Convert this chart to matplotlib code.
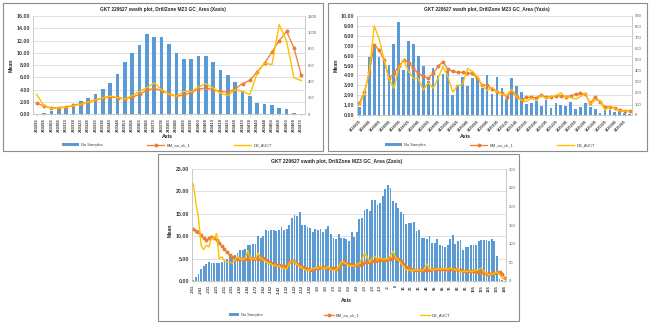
import numpy as np
import matplotlib
matplotlib.use("Agg")
import matplotlib.pyplot as plt
from matplotlib.patches import Rectangle

plt.rcParams['font.family'] = ['Liberation Sans', 'DejaVu Sans']

BLUE = "#5B9BD5"
ORANGE = "#ED7D31"
YELLOW = "#FFC000"
GRID = "#D9D9D9"
SPINE = "#BFBFBF"

# --- X axis swath ---
x_cats = [240293, 240298, 240303, 240308, 240313, 240318, 240323, 240328, 240333, 240338,
          240343, 240348, 240353, 240358, 240363, 240368, 240373, 240378, 240383, 240388,
          240393, 240398, 240403, 240408, 240413, 240418, 240423, 240428, 240433, 240438,
          240443, 240448, 240453, 240458, 240463, 240468, 240473]
x_samples = [2, 15, 34, 60, 90, 128, 158, 195, 248, 308, 383, 495, 638, 743, 848, 975, 945, 945,
             855, 743, 675, 668, 705, 707, 633, 543, 474, 392, 278, 225, 135, 121, 113, 74, 60, 12, 3]
x_bm = [1.80, 1.30, 1.00, 1.05, 1.15, 1.40, 1.70, 1.95, 2.30, 2.60, 2.80, 2.65, 2.45, 2.75, 3.20,
        3.90, 4.20, 3.80, 3.30, 2.95, 3.05, 3.55, 4.05, 4.25, 3.97, 3.70, 3.54, 4.10, 4.96, 5.50,
        6.90, 8.30, 10.10, 12.00, 13.50, 10.80, 6.30]
x_db = [3.20, 1.35, 0.90, 1.00, 1.10, 1.35, 1.60, 1.95, 2.30, 2.65, 2.90, 2.70, 2.45, 3.00, 3.70,
        4.30, 5.10, 3.95, 3.25, 2.90, 3.70, 3.65, 4.40, 4.95, 4.26, 3.40, 3.00, 3.97, 3.70, 3.16,
        6.70, 8.30, 8.07, 14.60, 11.90, 5.90, 5.45]

# --- Y axis swath ---
y_cats = [1424825, 1424835, 1424845, 1424855, 1424865, 1424875, 1424885, 1424895, 1424905, 1424915,
          1424925, 1424935, 1424945, 1424955, 1424965, 1424975, 1424985, 1424995, 1425005, 1425015,
          1425025, 1425035, 1425045, 1425055, 1425065, 1425075, 1425085, 1425095, 1425105, 1425115,
          1425125, 1425135, 1425145, 1425155, 1425165, 1425175, 1425185, 1425195, 1425205, 1425215,
          1425225, 1425235, 1425245, 1425255, 1425265, 1425275, 1425285, 1425295, 1425305, 1425315,
          1425325, 1425335, 1425345, 1425355, 1425365, 1425375]
y_samples = [77, 180, 531, 621, 531, 522, 459, 648, 846, 405, 671, 648, 540, 441, 306, 428, 351, 369,
             401, 180, 270, 342, 261, 338, 329, 248, 365, 189, 342, 243, 144, 333, 261, 212, 99, 108,
             131, 86, 135, 63, 113, 95, 86, 122, 59, 72, 108, 77, 54, 18, 41, 45, 27, 59, 14, 9]
y_bm = [1.25, 2.3, 4.3, 7.05, 6.57, 5.56, 3.7, 4.2, 4.9, 5.56, 5.3, 4.7, 4.2, 3.94, 3.7, 4.2, 4.9,
        5.4, 4.6, 4.4, 4.3, 4.3, 4.25, 4.2, 3.7, 3.0, 3.0, 2.6, 2.35, 2.2, 1.85, 2.35, 1.85, 1.5,
        1.8, 1.8, 1.75, 2.0, 1.8, 1.85, 1.9, 1.95, 1.85, 1.95, 2.1, 2.2, 2.1, 1.2, 1.8, 1.35, 0.8,
        0.85, 0.7, 0.5, 0.4, 0.4]
y_db = [1.0, 2.2, 4.4, 9.0, 7.7, 5.6, 3.7, 2.7, 4.7, 5.6, 4.4, 3.7, 3.7, 2.5, 3.3, 2.7, 3.7, 4.9,
        3.9, 2.3, 3.0, 3.1, 4.7, 4.4, 3.9, 3.0, 2.5, 2.8, 2.35, 2.1, 2.0, 2.6, 1.85, 1.5, 1.35, 1.7,
        1.5, 1.95, 1.7, 1.85, 1.95, 2.25, 1.8, 1.8, 1.6, 1.85, 2.2, 1.1, 1.5, 1.45, 0.5, 0.9, 0.65,
        0.4, 0.4, 0.35]

# --- Z axis swath ---
z_tick_labels = ["-251", "-241", "-231", "-221", "-211", "-201", "-192", "-182", "-172", "-162",
                 "-152", "-142", "-132", "-122", "-112", "-102", "-93", "-83", "-73", "-63",
                 "-53", "-43", "-33", "-23", "-13", "-3", "6", "16", "26", "36",
                 "46", "56", "66", "76", "86", "96", "105", "115", "125", "135", "145"]
z_samples = [4, 12, 19, 32, 40, 46, 50, 48, 49, 48,
             49, 52, 55, 60, 64, 67, 70, 74, 84, 82,
             86, 97, 97, 100, 100, 120, 114, 120, 136, 133,
             137, 137, 134, 136, 144, 136, 138, 150, 168, 178,
             175, 185, 151, 149, 144, 143, 130, 138, 136, 138,
             131, 139, 148, 126, 115, 112, 125, 114, 115, 112,
             108, 130, 119, 132, 167, 169, 190, 193, 188, 218,
             216, 203, 209, 229, 247, 256, 248, 215, 210, 196,
             186, 180, 152, 156, 156, 157, 133, 136, 114, 115,
             112, 120, 103, 103, 112, 96, 94, 90, 96, 112,
             124, 100, 108, 109, 82, 90, 91, 96, 96, 96,
             107, 110, 110, 109, 106, 112, 108, 66, 5, 2, 1]
z_bm = [11.6, 11.2, 10.9, 10.3, 9.5, 9.1, 9.5, 9.8, 9.6, 9.2, 8.5, 7.8, 7.1, 6.4, 5.8, 5.3, 5.0, 4.9,
        4.9, 5.0, 5.0, 5.0, 5.1, 5.0, 5.2, 5.0, 5.0, 5.1, 4.6, 4.2,
        4.0, 3.8, 3.6, 3.5, 3.4, 3.2, 3.5, 4.3, 4.5, 4.3, 3.8, 3.4, 3.1, 2.8, 2.6, 2.5, 2.7, 2.9,
        3.0, 3.1, 3.1, 3.0, 3.0, 2.9, 2.8, 2.7, 3.0, 3.8, 4.2, 4.1,
        3.8, 3.6, 3.5, 3.5, 3.6, 3.9, 4.2, 4.3, 4.3, 4.4, 4.5, 4.6, 4.7, 4.6, 4.7, 4.8, 5.0, 5.3,
        5.2, 4.9, 4.4, 3.8, 3.2, 2.8, 2.6, 2.5, 2.4, 2.4, 2.4, 2.4,
        2.4, 2.5, 2.6, 2.6, 2.6, 2.6, 2.7, 2.7, 2.7, 2.7, 2.7, 2.6, 2.5, 2.4, 2.3, 2.2, 2.2, 2.2,
        2.2, 2.1, 2.1, 2.0, 1.8, 1.6, 1.6, 1.7, 1.8, 1.9, 2.0, 1.6, 0.7]
z_db = [21.7, 17.5, 14.0, 8.0, 7.0, 8.0, 7.6, 9.6, 9.4, 10.6, 5.0, 5.4, 4.4, 4.3, 4.2, 4.0, 4.6, 5.5,
        4.9, 4.8, 5.0, 6.8, 4.9, 5.1, 4.8, 6.3, 5.0, 4.7, 4.3, 4.0,
        3.8, 3.5, 3.4, 3.3, 3.0, 2.8, 2.6, 4.0, 4.4, 4.3, 3.7, 3.2, 2.9, 2.5, 2.4, 2.5, 2.8, 3.0,
        2.8, 3.3, 2.8, 2.9, 3.2, 2.6, 2.3, 2.5, 3.2, 4.3, 4.2, 3.8,
        3.4, 3.5, 3.3, 3.7, 4.0, 5.0, 6.2, 5.4, 4.2, 5.2, 5.5, 4.7, 5.3, 4.8, 5.0, 4.9, 5.6, 6.7,
        5.2, 4.7, 4.0, 3.2, 2.5, 2.4, 2.3, 2.5, 2.5, 2.4, 2.3, 2.7,
        3.8, 2.7, 2.4, 2.6, 2.8, 2.6, 2.7, 2.8, 2.6, 2.9, 2.6, 2.5, 2.7, 2.0, 2.2, 2.1, 2.3, 2.1,
        2.2, 2.4, 2.6, 2.9, 2.2, 1.6, 1.4, 1.5, 1.7, 2.0, 1.5, 0.6, 0.5]

W, H = 649, 323


def fx(x):
    return x / W


def fy(y):
    return 1 - y / H


def swath(fig, frame, plot, title, title_xy, mean_xy, axis_xy, leg_xy, labels, tick_step,
          samples, bm, db, mean_max, mean_step, cnt_max, cnt_step, rot, bar_w,
          title_fs, tick_fs, handlelen, colspace):
    x0, y0, x1, y1 = frame
    fig.add_artist(Rectangle((fx(x0), fy(y1)), (x1 - x0) / W, (y1 - y0) / H,
                             transform=fig.transFigure, fill=False, edgecolor="#8c8c8c", lw=0.8))
    l, t, r, b = plot
    ax = fig.add_axes([fx(l), fy(b), (r - l) / W, (b - t) / H])
    ax2 = ax.twinx()
    ax.set_zorder(ax2.get_zorder() + 1)
    ax.patch.set_visible(False)

    n = len(samples)
    xs = np.arange(n)
    ax.set_xlim(-0.5, n - 0.5)
    ax.set_ylim(0, mean_max)
    ax2.set_ylim(0, cnt_max)

    ticks = np.arange(0, mean_max + mean_step / 2, mean_step)
    ax2.hlines(ticks[1:], -0.5, n - 0.5, transform=ax.transData, color=GRID, lw=0.6, zorder=1)
    bars = ax2.bar(xs, samples, width=bar_w, color=BLUE, zorder=2, label="No Samples")
    l1, = ax.plot(xs, bm, color=ORANGE, lw=0.9, marker="o", ms=1.8, label="BM_au_ok_1")
    l2, = ax.plot(xs, db, color=YELLOW, lw=1.0, label="DB_AUCT")

    ax.set_yticks(ticks)
    ax.set_yticklabels([f"{v:.2f}" for v in ticks], fontsize=3.8, fontweight="bold", color="#404040")
    rt = np.arange(0, cnt_max + cnt_step / 2, cnt_step)
    ax2.set_yticks(rt)
    ax2.set_yticklabels([f"{int(v)}" for v in rt], fontsize=3.0, color="#595959")
    ax.tick_params(axis="y", length=0, pad=2)
    ax2.tick_params(axis="y", length=0, pad=2)

    pos = xs[::tick_step]
    ax.set_xticks(pos)
    if rot == 45:
        ax.set_xticklabels(labels, rotation=45, ha="right", va="top", rotation_mode="anchor",
                           fontsize=tick_fs, fontweight="bold", color="#404040")
    else:
        ax.set_xticklabels(labels, rotation=90, ha="center", va="top",
                           fontsize=tick_fs, fontweight="bold", color="#404040")
    ax.tick_params(axis="x", length=1.5, width=0.4, color=SPINE, pad=1.5)

    for s in ax.spines.values():
        s.set_color(SPINE)
        s.set_linewidth(0.6)
    ax.spines["top"].set_visible(False)
    for s in ax2.spines.values():
        s.set_visible(False)

    fig.text(fx(title_xy[0]), fy(title_xy[1]), title, ha="center", va="center",
             fontsize=title_fs, fontweight="bold", color="#262626")
    fig.text(fx(mean_xy[0]), fy(mean_xy[1]), "Mean", rotation=90, ha="center", va="center",
             fontsize=3.8, fontweight="bold", color="#262626")
    fig.text(fx(axis_xy[0]), fy(axis_xy[1]), "Axis", ha="center", va="center",
             fontsize=3.8, fontweight="bold", color="#262626")

    ax.legend([bars, l1, l2], ["No Samples", "BM_au_ok_1", "DB_AUCT"], loc="center",
              bbox_to_anchor=(fx(leg_xy[0]), fy(leg_xy[1])), bbox_transform=fig.transFigure,
              ncol=3, frameon=False, fontsize=2.9, handlelength=handlelen,
              handletextpad=0.5, columnspacing=colspace, labelcolor="#404040")


fig = plt.figure(figsize=(6.49, 3.23), dpi=100)
fig.patch.set_facecolor("white")

swath(fig, (3, 3, 323, 151), (33, 16, 305, 114),
      "GKT 220627 swath plot, DrillZone MZ3 GC_Area (Xaxis)",
      (163, 9), (11, 65), (167, 137), (167, 145),
      [str(c) for c in x_cats], 1, x_samples, x_bm, x_db,
      16, 2, 1200, 200, 90, 0.5, 3.4, 3.0, 4.2, 11)

swath(fig, (328, 3, 647, 151), (357, 16, 632, 115),
      "GKT 220627 swath plot, DrillZone MZ3 GC_Area (Yaxis)",
      (487, 9), (336, 65), (465, 137), (490, 145),
      [str(c) for c in y_cats[::2]], 2, y_samples, y_bm, y_db,
      10, 1, 900, 100, 45, 0.55, 3.4, 2.8, 4.2, 11)

swath(fig, (158, 154, 519, 321), (192, 169, 506, 281),
      "GKT 220627 swath plot, DrillZone MZ3 GC_Area (Zaxis)",
      (337, 161), (170, 230), (346, 300), (340, 315),
      z_tick_labels, 3, z_samples, z_bm, z_db,
      25, 5, 300, 50, 90, 0.7, 3.6, 3.0, 2.5, 15)

fig.savefig("out.png", dpi=100)
